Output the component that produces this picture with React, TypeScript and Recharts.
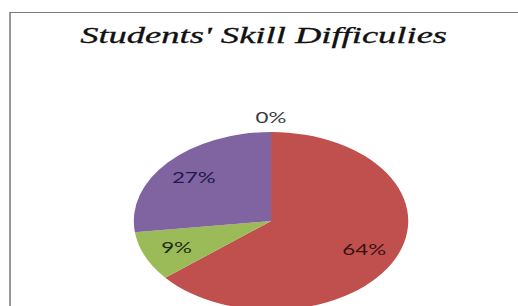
import React from 'react';
import { PieChart, Pie, Cell } from 'recharts';

const skills = ['Skill 1', 'Skill 2', 'Skill 3', 'Skill 4'];
const percents = [0, 64, 9, 27];
const sliceColors = ['#4F81BD', '#C0504D', '#9BBB59', '#8064A2'];
const labelColors = ['#3a3a3a', '#3a1010', '#1f2b10', '#22184a'];

const data = skills.map((name, i) => ({ name, value: percents[i] }));

const RAD = Math.PI / 180;
// the reference picture is stretched sideways, so the whole chart is drawn narrow and scaled
const W = 336;
const STRETCH = 518 / W;

function renderLabel(props: any) {
  const { cx, cy, midAngle, outerRadius, index, value } = props;
  const r = value === 0 ? outerRadius * 1.17 : outerRadius * 0.75;
  const x = cx + r * Math.cos(-midAngle * RAD);
  const y = cy + r * Math.sin(-midAngle * RAD);
  return (
    <text
      x={x}
      y={y}
      textAnchor="middle"
      dominantBaseline="central"
      fill={labelColors[index]}
      fontFamily="Lato, 'Open Sans', sans-serif"
      fontSize={14.5}
    >
      {`${value}%`}
    </text>
  );
}

export default function App() {
  return (
    <div style={{ position: 'absolute', left: 0, top: 0, width: 518, height: 306, overflow: 'hidden', background: '#fff' }}>
      <div style={{ position: 'absolute', left: 0, top: 0, width: W, height: 306, transform: `scaleX(${STRETCH})`, transformOrigin: '0 0' }}>
        <div
          style={{
            position: 'absolute',
            left: 6.2,
            top: 11.5,
            width: 400,
            height: 400,
            border: '1.5px solid #7a7a7a',
          }}
        />
        <svg width={W} height={60} style={{ position: 'absolute', left: 0, top: 0 }}>
          <text
            x={171}
            y={43}
            textAnchor="middle"
            fontFamily="'Liberation Serif', 'Times New Roman', serif"
            fontStyle="italic"
            fontSize={22.5}
            fill="#111"
            stroke="#111"
            strokeWidth={0.3}
            textLength={238}
            lengthAdjust="spacingAndGlyphs"
          >
            Students' Skill Difficulies
          </text>
        </svg>
        <div style={{ position: 'absolute', left: 0, top: 0 }}>
          <PieChart width={W} height={306} margin={{ top: 0, right: 0, bottom: 0, left: 0 }}>
            <Pie
              data={data}
              dataKey="value"
              nameKey="name"
              cx={175.8}
              cy={221}
              outerRadius={89}
              startAngle={90}
              endAngle={-270}
              stroke="none"
              label={renderLabel}
              labelLine={false}
              isAnimationActive={false}
            >
              {data.map((d, i) => (
                <Cell key={d.name} fill={sliceColors[i]} />
              ))}
            </Pie>
          </PieChart>
        </div>
      </div>
    </div>
  );
}
